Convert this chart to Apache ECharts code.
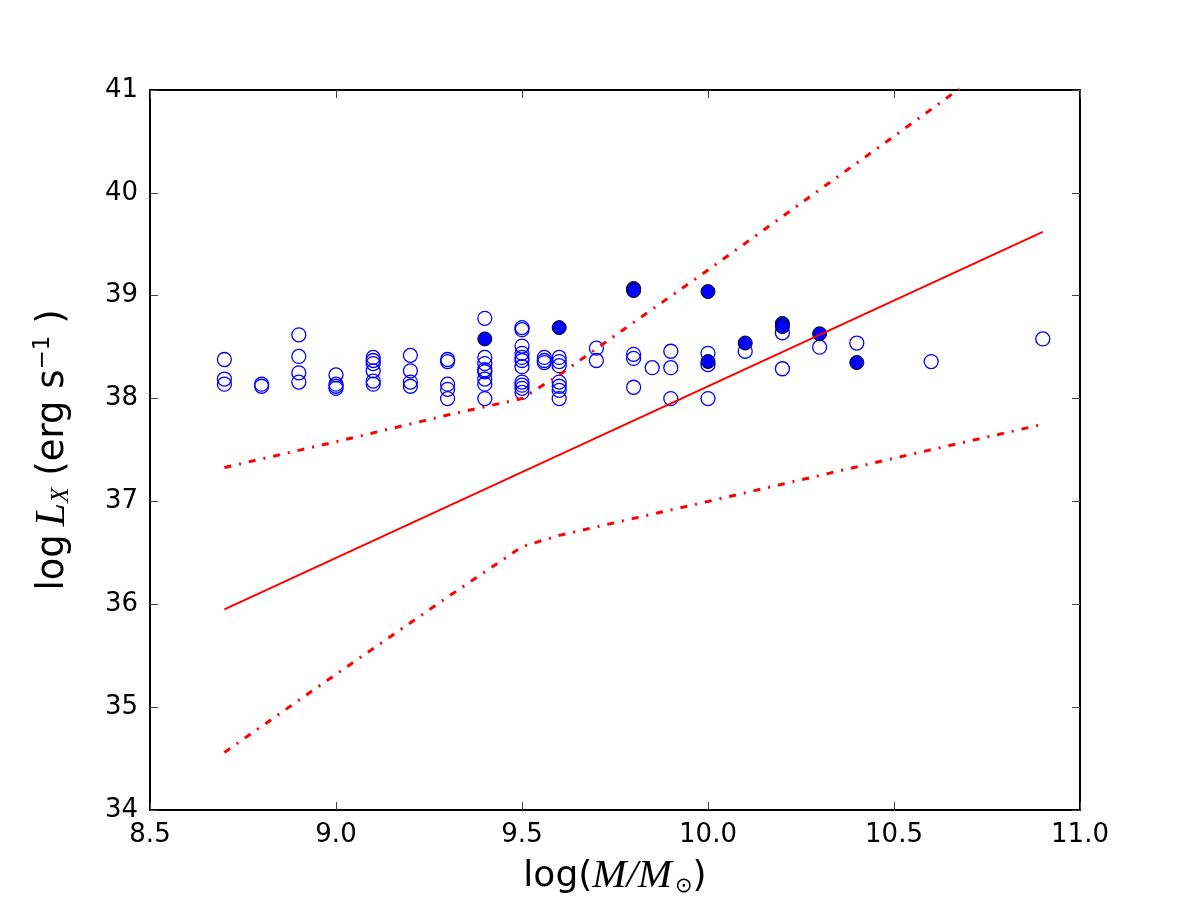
<!DOCTYPE html>
<html lang="en">
<head>
<meta charset="utf-8">
<title>log Lx vs log M</title>
<style type="text/css">
  *{padding:0;margin:0;}
  html,body{width:1200px;height:900px;background:#fff;}
  #chart{width:1200px;height:900px;}
</style>
</head>
<body>
<div id="chart"></div>
<script src="https://cdn.jsdelivr.net/npm/echarts@6/dist/echarts.min.js"></script>
<script type="text/javascript">
// open circles: [logM, logLx]
var openPts = [
  [8.7,38.38],[8.7,38.19],[8.7,38.14],
  [8.8,38.14],[8.8,38.12],
  [8.9,38.62],[8.9,38.41],[8.9,38.25],[8.9,38.16],
  [9.0,38.23],[9.0,38.14],[9.0,38.12],[9.0,38.10],
  [9.1,38.40],[9.1,38.37],[9.1,38.34],[9.1,38.27],[9.1,38.17],[9.1,38.14],
  [9.2,38.42],[9.2,38.27],[9.2,38.16],[9.2,38.12],
  [9.3,38.38],[9.3,38.36],[9.3,38.14],[9.3,38.09],[9.3,38.00],
  [9.4,38.78],[9.4,38.40],[9.4,38.34],[9.4,38.28],[9.4,38.26],[9.4,38.19],[9.4,38.14],[9.4,38.00],
  [9.5,38.69],[9.5,38.67],[9.5,38.51],[9.5,38.44],[9.5,38.40],[9.5,38.37],[9.5,38.31],[9.5,38.16],[9.5,38.13],[9.5,38.10],[9.5,38.06],
  [9.56,38.40],[9.56,38.37],[9.56,38.35],
  [9.6,38.40],[9.6,38.36],[9.6,38.32],[9.6,38.16],[9.6,38.12],[9.6,38.08],[9.6,38.00],
  [9.7,38.49],[9.7,38.37],
  [9.8,38.43],[9.8,38.39],[9.8,38.11],
  [9.85,38.30],
  [9.9,38.46],[9.9,38.30],[9.9,38.00],
  [10.0,38.44],[10.0,38.33],[10.0,38.00],
  [10.1,38.46],
  [10.2,38.64],[10.2,38.29],
  [10.3,38.50],
  [10.4,38.54],
  [10.6,38.36],
  [10.9,38.58]
];
// filled circles
var filledPts = [
  [9.4,38.58],[9.6,38.69],[9.8,39.07],[9.8,39.05],[10.0,39.04],[10.0,38.36],
  [10.1,38.54],[10.2,38.73],[10.2,38.70],[10.3,38.63],[10.4,38.35]
];
// best-fit line and its bounds
var fitLine = [[8.7,35.95],[10.9,39.62]];
var upperBound = [[8.7,37.33],[9.0,37.58],[9.3,37.84],[9.5,38.00],[9.6,38.23],[10.0,39.25],[10.5,40.55],[10.9,41.6]];
var lowerBound = [[8.7,34.56],[9.0,35.32],[9.3,36.07],[9.5,36.56],[9.6,36.67],[10.0,37.00],[10.5,37.42],[10.9,37.75]];

var xTicks = {min: 8.5, max: 11.0, interval: 0.5};
var yTicks = {min: 34, max: 41, interval: 1};

var font = 'DejaVu Sans';
var mathFont = 'Liberation Serif';

var chart = echarts.init(document.getElementById('chart'));

function axisBase(pos, show, t) {
  return {
    type: 'value', position: pos, min: t.min, max: t.max, interval: t.interval,
    axisLine: {show: true, onZero: false, lineStyle: {color: '#000', width: 2}},
    axisTick: {show: true, inside: true, length: 8, lineStyle: {color: '#444', width: 1}},
    axisLabel: {show: show, color: '#000', fontFamily: font, fontSize: 26, margin: 12},
    splitLine: {show: false}
  };
}

var xBottom = axisBase('bottom', true, xTicks);
xBottom.axisLabel.formatter = function (v) { return v.toFixed(1); };
xBottom.name = '{n|log(}{m|M/M}{s|\u2299}{n|)}';
xBottom.nameLocation = 'middle';
xBottom.nameGap = 46;
xBottom.nameTextStyle = {
  rich: {
    n: {fontFamily: font, fontSize: 36, color: '#000'},
    m: {fontFamily: mathFont, fontStyle: 'italic', fontSize: 41, color: '#000'},
    s: {fontFamily: font, fontSize: 21, color: '#000', verticalAlign: 'bottom', padding: [16, 0, 0, 3]}
  }
};
var xTop = axisBase('top', false, xTicks);

var yLeft = axisBase('left', true, yTicks);
yLeft.axisLabel.formatter = function (v) { return String(v); };
yLeft.name = '{n|log}{m|L}{s|X}{n| (erg s}{p|\u22121}{n| )}';
yLeft.nameLocation = 'middle';
yLeft.nameRotate = 90;
yLeft.nameGap = 76;
yLeft.nameTextStyle = {
  rich: {
    n: {fontFamily: font, fontSize: 37, color: '#000'},
    m: {fontFamily: mathFont, fontStyle: 'italic', fontSize: 42, color: '#000', padding: [0, 0, 0, 8]},
    s: {fontFamily: mathFont, fontStyle: 'italic', fontSize: 25, color: '#000', verticalAlign: 'bottom', padding: [14, 0, 0, 0]},
    p: {fontFamily: font, fontSize: 23, color: '#000', verticalAlign: 'top', padding: [0, 0, 16, 0]}
  }
};
var yRight = axisBase('right', false, yTicks);

var dashDot = [7, 8, 2, 8];

var option = {
  backgroundColor: '#fff',
  animation: false,
  grid: {left: 150, right: 120, top: 90, bottom: 90, containLabel: false, outerBoundsMode: 'none'},
  xAxis: [xBottom, xTop],
  yAxis: [yLeft, yRight],
  series: [
    {
      type: 'line', data: upperBound, symbol: 'none', clip: true,
      lineStyle: {color: '#ff0000', width: 3, type: dashDot}
    },
    {
      type: 'line', data: lowerBound, symbol: 'none', clip: true,
      lineStyle: {color: '#ff0000', width: 3, type: dashDot}
    },
    {
      type: 'line', data: fitLine, symbol: 'none', clip: true,
      lineStyle: {color: '#ff0000', width: 2}
    },
    {
      type: 'scatter', data: openPts, symbol: 'circle', symbolSize: 14,
      itemStyle: {color: 'rgba(0,0,0,0)', borderColor: '#0000ff', borderWidth: 1.3, opacity: 1}
    },
    {
      type: 'scatter', data: filledPts, symbol: 'circle', symbolSize: 14,
      itemStyle: {color: '#0000ff', borderColor: '#000', borderWidth: 1, opacity: 1}
    }
  ]
};
chart.setOption(option);
</script>
</body>
</html>
